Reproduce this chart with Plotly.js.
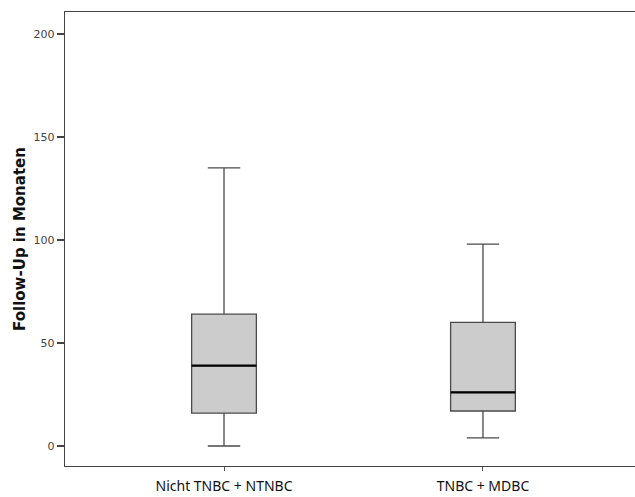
<!DOCTYPE html>
<html><head><meta charset="utf-8">
<script src="https://cdn.plot.ly/plotly-3.0.1.min.js"></script>
<style>html,body{margin:0;padding:0;background:#fff}#c{width:635px;height:497px}</style>
</head><body><div id="c"></div>
<script>
const categories = ["Nicht TNBC + NTNBC", "TNBC + MDBC"];
const lowerWhisker = [0, 4];
const q1 = [16, 17];
const median = [39, 26];
const q3 = [64, 60];
const upperWhisker = [135, 98];
const yTicks = [0, 50, 100, 150, 200];

const xIdx = categories.map((c, i) => i);

const boxTrace = {
  type: 'box', x: xIdx, q1: q1, median: median, q3: q3,
  lowerfence: lowerWhisker, upperfence: upperWhisker,
  width: 0.25, whiskerwidth: 0.5,
  fillcolor: '#cccccc', line: {color: '#4a4a4a', width: 1.3},
  boxpoints: false, hoverinfo: 'skip', showlegend: false
};
const medianTrace = {
  type: 'box', x: xIdx, q1: median, median: median, q3: median,
  lowerfence: median, upperfence: median,
  width: 0.25, whiskerwidth: 0,
  fillcolor: 'rgba(0,0,0,0)', line: {color: '#000000', width: 2.2},
  boxpoints: false, hoverinfo: 'skip', showlegend: false
};

const layout = {
  width: 635, height: 497,
  margin: {l: 65, r: 0, t: 12, b: 31, pad: 0},
  paper_bgcolor: '#ffffff', plot_bgcolor: '#ffffff',
  boxmode: 'overlay',
  font: {family: 'Open Sans, sans-serif', color: '#222'},
  xaxis: {
    range: [-0.614, 1.587], tickvals: xIdx, ticktext: categories,
    showgrid: false, zeroline: false,
    showline: true, mirror: true, linecolor: '#444', linewidth: 1.3,
    ticks: 'outside', ticklen: 4, tickcolor: '#555', tickwidth: 1,
    ticklabelstandoff: 3,
    tickfont: {family: 'Noto Sans, sans-serif', size: 14, color: '#111'}
  },
  yaxis: {
    range: [-9.7, 210.7], tickvals: yTicks, ticktext: yTicks.map(String),
    showgrid: false, zeroline: false,
    showline: true, linecolor: '#444', linewidth: 1.3,
    ticks: 'outside', ticklen: 7, tickcolor: '#444', tickwidth: 1.3,
    tickfont: {family: 'DejaVu Sans, sans-serif', size: 11, color: '#444'},
    title: {text: 'Follow-Up in Monaten', standoff: 4,
      font: {family: 'DejaVu Sans, sans-serif', size: 15, color: '#111', weight: 'bold'}}
  }
};

Plotly.newPlot('c', [boxTrace, medianTrace], layout, {displayModeBar: false, staticPlot: true});
</script></body></html>
